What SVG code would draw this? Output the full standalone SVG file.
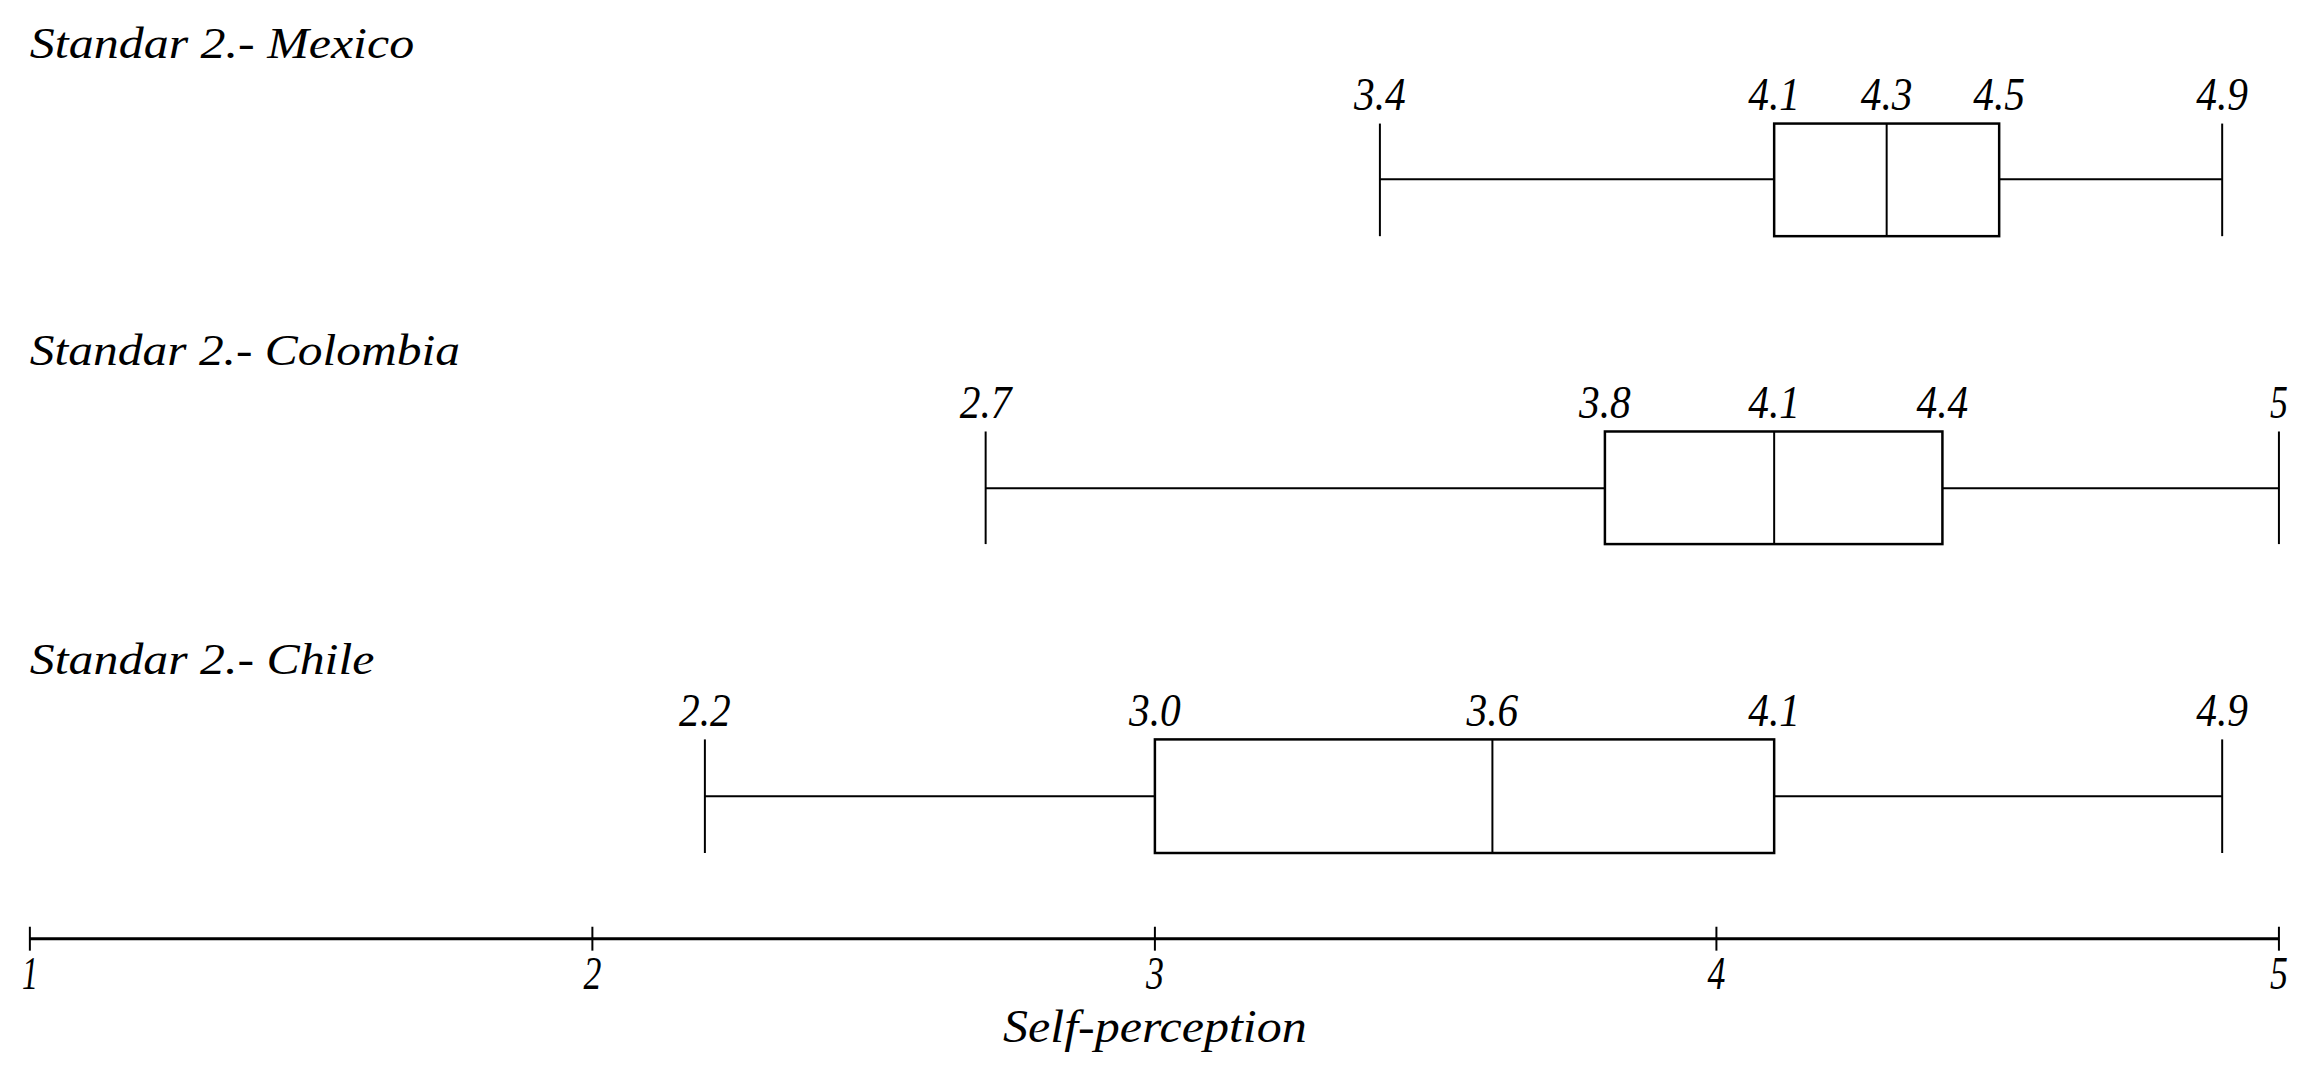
<svg xmlns="http://www.w3.org/2000/svg" width="2322" height="1066" viewBox="0 0 2322 1066">
<style>
text{font-family:"Liberation Serif","Times New Roman",serif;font-style:italic;fill:#000}
.t{font-size:44px}
.n{font-size:46px;text-anchor:middle}
.l{stroke:#000;stroke-width:2;fill:none}
.b{stroke:#000;stroke-width:2.5;fill:#fff}
</style>
<rect width="2322" height="1066" fill="#fff"/>
<g transform="scale(0.9956,0.9965)">
<g id="mexico">
<text class="t" x="30" y="58" textLength="386" lengthAdjust="spacingAndGlyphs">Standar 2.- Mexico</text>
<line class="l" x1="1386" y1="180" x2="1782" y2="180"/><line class="l" x1="2006" y1="180" x2="2232" y2="180"/>
<line class="l" x1="1386" y1="124" x2="1386" y2="237"/><line class="l" x1="2232" y1="124" x2="2232" y2="237"/>
<rect class="b" x="1782" y="124" width="226" height="113"/><line class="l" x1="1895" y1="124" x2="1895" y2="237"/>
<text class="n" x="1386" y="110" textLength="52" lengthAdjust="spacingAndGlyphs">3.4</text><text class="n" x="1782" y="110" textLength="52" lengthAdjust="spacingAndGlyphs">4.1</text><text class="n" x="1895" y="110" textLength="52" lengthAdjust="spacingAndGlyphs">4.3</text><text class="n" x="2008" y="110" textLength="52" lengthAdjust="spacingAndGlyphs">4.5</text><text class="n" x="2232" y="110" textLength="52" lengthAdjust="spacingAndGlyphs">4.9</text>
</g>
<g id="colombia">
<text class="t" x="30" y="366" textLength="432" lengthAdjust="spacingAndGlyphs">Standar 2.- Colombia</text>
<line class="l" x1="990" y1="490" x2="1612" y2="490"/><line class="l" x1="1951" y1="490" x2="2289" y2="490"/>
<line class="l" x1="990" y1="433" x2="990" y2="546"/><line class="l" x1="2289" y1="433" x2="2289" y2="546"/>
<rect class="b" x="1612" y="433" width="339" height="113"/><line class="l" x1="1782" y1="433" x2="1782" y2="546"/>
<text class="n" x="990" y="419" textLength="52" lengthAdjust="spacingAndGlyphs">2.7</text><text class="n" x="1612" y="419" textLength="52" lengthAdjust="spacingAndGlyphs">3.8</text><text class="n" x="1782" y="419" textLength="52" lengthAdjust="spacingAndGlyphs">4.1</text><text class="n" x="1951" y="419" textLength="52" lengthAdjust="spacingAndGlyphs">4.4</text><text class="n" x="2289" y="419" textLength="18" lengthAdjust="spacingAndGlyphs">5</text>
</g>
<g id="chile">
<text class="t" x="30" y="676" textLength="346" lengthAdjust="spacingAndGlyphs">Standar 2.- Chile</text>
<line class="l" x1="708" y1="799" x2="1160" y2="799"/><line class="l" x1="1782" y1="799" x2="2232" y2="799"/>
<line class="l" x1="708" y1="742" x2="708" y2="856"/><line class="l" x1="2232" y1="742" x2="2232" y2="856"/>
<rect class="b" x="1160" y="742" width="622" height="114"/><line class="l" x1="1499" y1="742" x2="1499" y2="856"/>
<text class="n" x="708" y="729" textLength="52" lengthAdjust="spacingAndGlyphs">2.2</text><text class="n" x="1160" y="729" textLength="52" lengthAdjust="spacingAndGlyphs">3.0</text><text class="n" x="1499" y="729" textLength="52" lengthAdjust="spacingAndGlyphs">3.6</text><text class="n" x="1782" y="729" textLength="52" lengthAdjust="spacingAndGlyphs">4.1</text><text class="n" x="2232" y="729" textLength="52" lengthAdjust="spacingAndGlyphs">4.9</text>
</g>
<g id="axis">
<line x1="30" y1="942" x2="2289" y2="942" stroke="#000" stroke-width="3"/>
<g class="l"><line x1="30" y1="930" x2="30" y2="954"/><line x1="595" y1="930" x2="595" y2="954"/><line x1="1160" y1="930" x2="1160" y2="954"/><line x1="1724" y1="930" x2="1724" y2="954"/><line x1="2289" y1="930" x2="2289" y2="954"/></g>
<text class="n" x="30" y="992" textLength="16" lengthAdjust="spacingAndGlyphs">1</text><text class="n" x="595" y="992" textLength="18" lengthAdjust="spacingAndGlyphs">2</text><text class="n" x="1160" y="992" textLength="18" lengthAdjust="spacingAndGlyphs">3</text><text class="n" x="1724" y="992" textLength="18" lengthAdjust="spacingAndGlyphs">4</text><text class="n" x="2289" y="992" textLength="18" lengthAdjust="spacingAndGlyphs">5</text>
<text class="n" x="1160" y="1046" textLength="305" lengthAdjust="spacingAndGlyphs">Self-perception</text>
</g>
</g>
</svg>
